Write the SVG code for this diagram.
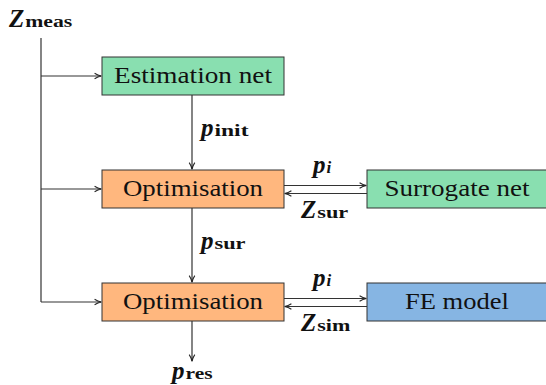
<svg xmlns="http://www.w3.org/2000/svg" width="546" height="385" viewBox="0 0 546 385">
<defs>
<marker id="ah" viewBox="0 0 10 10" refX="9" refY="5" markerWidth="8" markerHeight="8" markerUnits="userSpaceOnUse" orient="auto">
<path d="M1,1.5 Q5,4.2 9.5,5 Q5,5.8 1,8.5" fill="none" stroke="#222" stroke-width="1.3"/>
</marker>
<style>
.box{stroke:#333;stroke-width:1}
.g{fill:#89dfb0}.o{fill:#ffb77e}.b{fill:#86b5e3}
.t{font-family:"Liberation Serif",serif;font-size:23px;fill:#111;text-anchor:middle}
.m{font-family:"Liberation Serif",serif;font-size:25px;font-style:italic;font-weight:bold;fill:#111}
.s{font-family:"Liberation Serif",serif;font-size:16px;font-weight:bold;fill:#111}
.si{font-family:"Liberation Serif",serif;font-size:17px;font-weight:bold;font-style:italic;fill:#111}
.c{fill:none;stroke:#333;stroke-width:1.2}
</style>
</defs>
<g id="connectors">
<path class="c" d="M41,38 V302"/>
<path class="c" d="M41,76 H101" marker-end="url(#ah)"/>
<path class="c" d="M41,189 H101" marker-end="url(#ah)"/>
<path class="c" d="M41,302 H101" marker-end="url(#ah)"/>
<path class="c" d="M192,95 V169" marker-end="url(#ah)"/>
<path class="c" d="M192,208 V282" marker-end="url(#ah)"/>
<path class="c" d="M192,321 V361" marker-end="url(#ah)"/>
<path class="c" d="M284,185.5 H366" marker-end="url(#ah)"/>
<path class="c" d="M367,193.5 H285" marker-end="url(#ah)"/>
<path class="c" d="M284,298.5 H366" marker-end="url(#ah)"/>
<path class="c" d="M367,306.5 H285" marker-end="url(#ah)"/>
</g>
<g id="zmeas"><text x="9" y="27"><tspan class="m">Z</tspan><tspan class="s" dx="1" textLength="47" lengthAdjust="spacingAndGlyphs">meas</tspan></text></g>
<g id="estimation"><rect class="box g" x="102" y="57" width="182" height="38"/><text class="t" x="193" y="83" textLength="158" lengthAdjust="spacingAndGlyphs">Estimation net</text></g>
<g id="opt1"><rect class="box o" x="102" y="170" width="182" height="38"/><text class="t" x="193" y="196" textLength="140" lengthAdjust="spacingAndGlyphs">Optimisation</text></g>
<g id="surrogate"><rect class="box g" x="367" y="170" width="180" height="38"/><text class="t" x="457" y="196" textLength="145" lengthAdjust="spacingAndGlyphs">Surrogate net</text></g>
<g id="opt2"><rect class="box o" x="102" y="283" width="182" height="38"/><text class="t" x="193" y="309" textLength="140" lengthAdjust="spacingAndGlyphs">Optimisation</text></g>
<g id="fe"><rect class="box b" x="367" y="283" width="180" height="38"/><text class="t" x="457" y="309" textLength="104" lengthAdjust="spacingAndGlyphs">FE model</text></g>
<g id="labels">
<text x="201" y="136"><tspan class="m">p</tspan><tspan class="s" dx="1" textLength="34" lengthAdjust="spacingAndGlyphs">init</tspan></text>
<text x="201" y="249"><tspan class="m">p</tspan><tspan class="s" dx="1" textLength="31" lengthAdjust="spacingAndGlyphs">sur</tspan></text>
<text x="172" y="379"><tspan class="m">p</tspan><tspan class="s" dx="1" textLength="27" lengthAdjust="spacingAndGlyphs">res</tspan></text>
<text x="313" y="173"><tspan class="m">p</tspan><tspan class="si" dx="1">i</tspan></text>
<text x="313" y="286"><tspan class="m">p</tspan><tspan class="si" dx="1">i</tspan></text>
<text x="301" y="218"><tspan class="m">Z</tspan><tspan class="s" dx="1" textLength="31" lengthAdjust="spacingAndGlyphs">sur</tspan></text>
<text x="301" y="331"><tspan class="m">Z</tspan><tspan class="s" dx="1" textLength="33" lengthAdjust="spacingAndGlyphs">sim</tspan></text>
</g>
</svg>
